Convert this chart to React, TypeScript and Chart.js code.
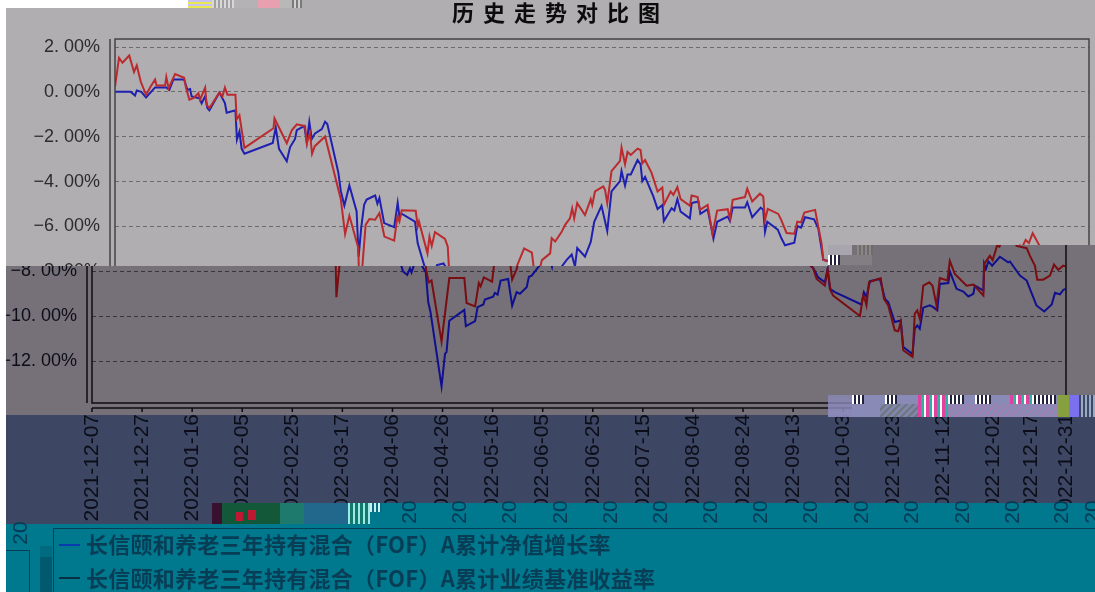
import React, { useEffect, useRef } from "react";
import { Chart, registerables } from "chart.js";

Chart.register(...registerables);

const chartTitle = "历史走势对比图";
const netLabel = "长信颐和养老三年持有混合（FOF）A累计净值增长率";
const benchLabel = "长信颐和养老三年持有混合（FOF）A累计业绩基准收益率";

const tickDays = [0, 20, 40, 60, 80, 100, 120, 140, 160, 180, 200, 220, 240, 260, 280, 300, 320, 340, 360, 375, 389];
const tickLabels = [
  "2021-12-07", "2021-12-27", "2022-01-16", "2022-02-05", "2022-02-25", "2022-03-17", "2022-04-06",
  "2022-04-26", "2022-05-16", "2022-06-05", "2022-06-25", "2022-07-15", "2022-08-04", "2022-08-24",
  "2022-09-13", "2022-10-03", "2022-10-23", "2022-11-12", "2022-12-02", "2022-12-17", "2022-12-31",
];
const yTicks = [2, 0, -2, -4, -6, -8, -10, -12];

const netDays = [
  0, 6.3, 8, 8.7, 10.5, 12.4, 16, 20.6, 21.7, 23.3, 27.6, 28.9, 30, 30.6, 33.7, 34.6, 36, 36.9, 37.7, 41.7,
  43.9, 44.6, 48.1, 48.7, 49.7, 50.6, 51.7, 63, 64.2, 65.5, 68.6, 69.9, 71.9, 72.6, 75.6, 76.6, 77.6, 78.6, 79.9, 82.6,
  83.9, 84.8, 89.2, 90.2, 91.6, 93.6, 96.5, 97.3, 98.3, 99.5, 100.5, 103.9, 104.8, 105.6, 107.5, 111.5, 112.9, 113.6, 114.5, 119.8,
  120.9, 124.2, 125.9, 127, 127.6, 128.6, 131.2, 133.3, 134.3, 135.2, 139.6, 141, 141.6, 142.7, 148.7, 149.3, 153, 154, 156.3, 156.9,
  160.2, 160.9, 162, 163.2, 166.2, 167.8, 169.6, 170.9, 173.6, 174.5, 175.6, 178.4, 180.4, 182.4, 183.7, 184.6, 187.7, 190, 191.4, 194.3,
  196.6, 198.3, 201.7, 202.3, 203.7, 204.7, 206, 208.7, 209.9, 210.6, 211.7, 215, 216.7, 218.6, 219.2, 222.3, 223.4, 224.6, 225.9, 229.6,
  230.3, 233, 233.8, 236.7, 239, 240.5, 244.7, 245.6, 246.7, 251.6, 252.5, 254.5, 257.9, 258.9, 259.6, 260.5, 264.7, 266.2, 267.6, 271.3,
  272.5, 274, 275.6, 279.2, 280.9, 282.9, 285.2, 288, 290, 292.7, 293.8, 294.7, 296.7, 307.3, 308.3, 309.3, 310.7, 314.7, 316.7, 318,
  320.6, 323, 324, 327.7, 328.6, 329.6, 330.6, 332, 334.6, 336, 337.6, 338.6, 342, 342.6, 345.3, 348, 350, 352, 352.6, 356,
  356.3, 357, 358, 359.5, 362.6, 365.9, 366.6, 370.6, 373.3, 377.2, 380.3, 383.3, 384.6, 386.6, 387.9, 388.8,
];
const netValues = [
  0, 0, -0.16, 0.06, 0, -0.25, 0.2, 0.19, 0.09, 0.55, 0.55, 0.09, 0.13, -0.2, -0.28, -0.51, -0.2, -0.72, -0.82, -0.03,
  -0.5, -0.93, -0.82, -2.13, -1.77, -2.54, -2.76, -2.28, -1.59, -2.54, -3.09, -2.47, -2.1, -1.71, -1.52, -2.25, -1.34, -2.1, -1.85, -1.66,
  -1.33, -1.43, -3.6, -4.43, -5.07, -4.17, -5.33, -7.35, -6.1, -5.03, -4.8, -4.62, -4.98, -4.73, -5.85, -6.03, -4.95, -5.55, -5.43, -5.78,
  -6.75, -8.0, -8.16, -7.87, -8.05, -7.72, -7.65, -8.04, -9.38, -9.82, -13.13, -11.67, -11.6, -10.2, -9.72, -10.44, -10.22, -9.6, -9.48, -9.26,
  -9.13, -8.96, -9.04, -8.41, -8.34, -9.53, -8.93, -9, -8.71, -8.24, -8.19, -7.79, -7.49, -7.25, -7.79, -6.96, -7.34, -6.69, -5.79, -5.08,
  -6.2, -4.44, -3.98, -3.53, -4.18, -3.68, -3.68, -3.04, -3.23, -3.98, -3.79, -4.66, -5.22, -5.04, -5.76, -5.19, -5.29, -4.78, -5.34, -5.64,
  -4.96, -4.89, -5.44, -5.23, -6.54, -5.79, -5.56, -5.76, -5.16, -5.16, -4.92, -5.59, -5.16, -5.26, -6.24, -5.79, -6.14, -6.54, -6.84, -6.72,
  -5.98, -6.05, -5.59, -5.68, -6.09, -7.49, -7.55, -7.85, -8.27, -8.49, -7.9, -8.78, -8.93, -9.48, -8.93, -9.15, -8.44, -8.34, -9.23, -9.37,
  -10.26, -10.19, -11.37, -11.69, -10.56, -10.41, -10.56, -9.62, -9.52, -9.6, -9.74, -8.56, -8.52, -8, -8.78, -8.9, -9.12, -9, -8.64, -8.86,
  -7.67, -7.9, -7.56, -7.75, -7.35, -7.6, -7.56, -8.19, -8.41, -9.52, -9.79, -9.48, -8.96, -9.03, -8.83, -8.78,
];

const benchDays = [
  0, 1.6, 3, 5.7, 7.6, 8.7, 10.3, 12.4, 14.2, 16, 16.6, 20, 20.5, 21.4, 24, 27.6, 28.4, 29.7, 31.3, 33.3,
  34, 36, 36.6, 37.7, 41.7, 42.9, 43.9, 44.9, 48.1, 48.6, 49.7, 51.7, 63.3, 63.7, 68.6, 70.6, 72.6, 75.9, 76.6, 77.9,
  78.7, 79.8, 83.9, 90.2, 91.9, 93.6, 97.2, 97.6, 98.8, 100.1, 101.6, 103.9, 105.6, 107.6, 111.5, 112.8, 113.6, 114.5, 120.1, 120.9,
  121.4, 124.8, 125.6, 126.5, 127.8, 131.8, 132.9, 133.4, 134.5, 135.6, 139.6, 141.2, 142.7, 148.7, 149.6, 153, 154.5, 155.2, 156.5, 159.8,
  160.5, 163.4, 166.5, 167.8, 169.6, 170.5, 173.8, 174.4, 175.8, 178.4, 179.7, 181.7, 182.6, 183.4, 184.6, 187.7, 190, 190.6, 191.7, 195,
  195.7, 196.6, 198.3, 201.7, 202.3, 203.7, 204.7, 206, 208.7, 209.9, 210.6, 211.7, 214.3, 216.7, 218.6, 219.2, 221.9, 223, 224.6, 225.9,
  229.6, 230.3, 232.7, 233.6, 236.7, 238.6, 240.5, 244.7, 245.6, 246.7, 251.6, 252.5, 254.5, 257.6, 258.9, 259.6, 260.7, 264.9, 266.2, 268.2,
  271.3, 272.5, 274, 275.3, 279.6, 282.2, 282.9, 285.2, 288, 289.4, 292.7, 293.8, 295, 296, 306.7, 308, 308.7, 309.3, 310.3, 314,
  315, 316.3, 318, 320.6, 322, 323, 324, 327.7, 328.6, 329.6, 330.6, 332, 334.4, 335.7, 337.3, 338.6, 341.6, 342.6, 344.6, 349.3,
  352, 356, 356.3, 358.6, 359.7, 361.5, 362.4, 363.7, 365, 366.5, 369.3, 373.3, 374.6, 376.6, 377.5, 379.9, 382.6, 384.2, 385.9, 387.9, 388.8,
];
const benchValues = [
  0.23, 1.52, 1.3, 1.62, 0.89, 1.18, 0.45, -0.13, 0.23, 0.55, 0.28, 0.28, 0.66, 0.16, 0.79, 0.63, 0.16, -0.35, -0.28, -0.06,
  -0.35, 0.19, -0.57, -0.72, -0.03, -0.2, 0.19, -0.13, -0.13, -1.23, -1.04, -2.5, -1.62, -1.18, -2.29, -1.71, -1.45, -1.53, -2.29, -1.85,
  -2.76, -2.42, -1.99, -4.8, -6.34, -5.52, -6.97, -9.15, -7.77, -5.93, -5.67, -5.7, -5.4, -6.45, -6.63, -5.55, -5.78, -5.28, -5.3, -6,
  -5.78, -7.2, -6.45, -6.87, -6.25, -6.55, -6.9, -7.9, -8.49, -8.41, -11.13, -9.67, -8.3, -8.3, -9.41, -9.56, -8.52, -8.67, -8.27, -8.46,
  -7.77, -6.98, -7.17, -8.37, -7.9, -7.5, -7.2, -6.52, -6.67, -6.24, -5.94, -5.64, -5.19, -5.64, -4.96, -5.49, -4.78, -5.04, -4.44, -4.21,
  -4.36, -4.96, -3.53, -3.08, -2.48, -3.23, -2.68, -2.81, -2.53, -2.59, -3.19, -3.04, -3.61, -4.44, -4.26, -5.04, -4.44, -4.59, -4.24, -4.78,
  -5.08, -4.62, -4.69, -5.26, -5.04, -6.32, -5.29, -5.23, -5.64, -4.81, -4.69, -4.32, -4.89, -4.54, -4.66, -5.71, -5.22, -5.44, -5.74, -6.29,
  -6.32, -5.79, -5.82, -5.38, -5.26, -6.77, -7.49, -7.55, -7.85, -8.34, -8.64, -7.9, -8.86, -9.08, -9.99, -9.08, -9.27, -9.52, -8.49, -8.34,
  -8.31, -9.23, -9.52, -10.63, -10.67, -10.26, -11.52, -11.81, -9.89, -9.74, -10.11, -8.64, -8.49, -8.64, -9.52, -8.3, -8.41, -7.53, -8.12, -8.64,
  -8.59, -9.08, -7.67, -7.31, -7.5, -6.85, -6.9, -6.6, -6.74, -6.3, -6.87, -6.97, -7.31, -7.75, -8.37, -8.37, -8.19, -7.7, -7.93, -7.75, -7.78,
];

// Stray fragments of the date labels in the teal strip (page x of each "20")
const strayLabelX = [409, 459, 509, 560, 610, 660, 710, 760, 810, 861, 911, 962, 1012, 1061, 1092];

const W = 1095;
const H = 592;
const SHIFT = -23;

type Theme = {
  red: string;
  blue: string;
  grid: string;
  frame: string;
  text: string;
  withTitle: boolean;
};

function Layer({ theme, dx, clip }: { theme: Theme; dx: number; clip: string }) {
  const ref = useRef<HTMLCanvasElement | null>(null);
  useEffect(() => {
    if (!ref.current) return;
    const framePlugin = {
      id: "frame",
      afterDatasetsDraw(chart: any) {
        const { ctx, chartArea: a, scales } = chart;
        ctx.save();
        ctx.strokeStyle = theme.frame;
        ctx.lineWidth = 1.5;
        ctx.strokeRect(a.left, a.top, a.right - a.left, a.bottom - a.top);
        ctx.beginPath();
        ctx.moveTo(a.left - 5, a.top);
        ctx.lineTo(a.left - 5, a.bottom);
        ctx.moveTo(a.left, a.bottom + 5);
        ctx.lineTo(a.right, a.bottom + 5);
        for (const d of tickDays) {
          const px = scales.x.getPixelForValue(d);
          ctx.moveTo(px, a.bottom + 5);
          ctx.lineTo(px, a.bottom + 9);
        }
        ctx.stroke();
        if (theme.withTitle) {
          ctx.fillStyle = "#0c0c0c";
          ctx.font = "bold 22px 'Noto Sans CJK SC'";
          ctx.textAlign = "left";
          ctx.textBaseline = "middle";
          (ctx as any).letterSpacing = "9px";
          ctx.fillText(chartTitle, 452, 13);
          (ctx as any).letterSpacing = "0px";
        }
        ctx.restore();
      },
    };
    const chart = new Chart(ref.current, {
      type: "line",
      data: {
        datasets: [
          {
            label: benchLabel,
            data: benchDays.map((d, i) => ({ x: d, y: benchValues[i] })),
            borderColor: theme.red,
            borderWidth: 2,
            pointRadius: 0,
            tension: 0,
          },
          {
            label: netLabel,
            data: netDays.map((d, i) => ({ x: d, y: netValues[i] })),
            borderColor: theme.blue,
            borderWidth: 2,
            pointRadius: 0,
            tension: 0,
          },
        ],
      },
      options: {
        responsive: false,
        animation: false,
        devicePixelRatio: 1,
        layout: { padding: { top: 39, right: 6, left: 0, bottom: 0 } },
        plugins: { legend: { display: false }, tooltip: { enabled: false }, title: { display: false } },
        scales: {
          x: {
            type: "linear",
            min: 0,
            max: 389,
            afterBuildTicks: (s: any) => {
              s.ticks = tickDays.map((v) => ({ value: v }));
            },
            afterFit: (s: any) => {
              s.height = H - 403;
              s.paddingLeft = 0;
              s.paddingRight = 0;
            },
            ticks: {
              autoSkip: false,
              minRotation: 90,
              maxRotation: 90,
              padding: 3,
              color: theme.text,
              font: { family: "'Liberation Sans'", size: 21 },
              callback: (v: any) => tickLabels[tickDays.indexOf(Number(v))],
            },
            grid: { display: false },
            border: { display: false },
          },
          y: {
            min: -13.87,
            max: 2.357,
            afterBuildTicks: (s: any) => {
              s.ticks = yTicks.map((v) => ({ value: v }));
            },
            afterFit: (s: any) => {
              s.width = 115;
              s.paddingTop = 0;
              s.paddingBottom = 0;
            },
            ticks: {
              padding: 15,
              color: theme.text,
              font: { family: "'Liberation Sans'", size: 18 },
              callback: (v: any) => Number(v).toFixed(2).replace(".", ". ").replace("-", "\u2212") + "%",
            },
            grid: { color: theme.grid, drawTicks: false, lineWidth: 1, tickLength: 0 },
            border: { display: false, dash: [4, 3] },
          },
        },
      },
      plugins: [framePlugin],
    } as any);
    return () => chart.destroy();
  }, []);
  return (
    <div style={{ position: "absolute", left: 0, top: 0, width: W, height: H, overflow: "hidden", clipPath: clip }}>
      <canvas ref={ref} width={W} height={H} style={{ position: "absolute", left: dx, top: 0, display: "block" }} />
    </div>
  );
}

const box = (x: number, y: number, w: number, h: number, background: string): React.CSSProperties => ({
  position: "absolute",
  left: x,
  top: y,
  width: w,
  height: h,
  background,
});

const GRAY = "#b0aeb0";
const DARK = "#767078";
const NAVY = "#3d4663";
const TEAL = "#00788e";
const INK = "#083d56";

const upperTheme: Theme = { red: "#bb2a2e", blue: "#1f1fb0", grid: "#6c6c6c", frame: "#444444", text: "#2c2c2c", withTitle: true };
const lowerTheme: Theme = { red: "#7a0d12", blue: "#0f0f90", grid: "#38363c", frame: "#0c0c10", text: "#0b0d18", withTitle: false };

const upperClip = "polygon(6px 8px,300px 8px,300px 0,1095px 0,1095px 245px,828px 245px,828px 266px,6px 266px)";
const lowerClip = "polygon(828px 245px,1095px 245px,1095px 503px,212px 503px,212px 524px,6px 524px,6px 266px,828px 266px)";

const noiseA = "repeating-linear-gradient(90deg,#ffffff 0 2px,#20203a 2px 4px)";

const strayStyle = (left: number, top: number): React.CSSProperties => ({
  position: "absolute",
  left,
  top,
  width: 40,
  height: 20,
  textAlign: "center",
  transform: "rotate(-90deg)",
  font: "21px/20px 'Liberation Sans'",
  color: "#063a55",
});

export default function App() {
  return (
    <div style={{ position: "absolute", left: 0, top: 0, width: W, height: H, background: "#fff", overflow: "hidden" }}>
      <div style={box(6, 8, 1089, 258, GRAY)} />
      <div style={box(300, 0, 795, 8, GRAY)} />
      <div style={box(6, 266, 1089, 149, DARK)} />
      <div style={box(828, 245, 267, 21, DARK)} />
      <div style={box(6, 415, 1089, 109, NAVY)} />
      <div style={box(212, 503, 883, 89, TEAL)} />
      <div style={box(6, 524, 206, 68, TEAL)} />

      <Layer theme={upperTheme} dx={0} clip={upperClip} />
      <Layer theme={lowerTheme} dx={SHIFT} clip={lowerClip} />

      {/* top strip damage */}
      <div style={box(188, 0, 24, 8, "repeating-linear-gradient(0deg,#e8e850 0 2px,#c8c0f0 2px 4px)")} />
      <div style={box(212, 0, 22, 8, "repeating-linear-gradient(90deg,#d8d8d8 0 2px,#a0a0a0 2px 4px)")} />
      <div style={box(234, 0, 24, 8, "#b4b2b4")} />
      <div style={box(258, 0, 22, 8, "#e8a0b0")} />
      <div style={box(280, 0, 12, 8, "#b8b8b8")} />
      <div style={box(292, 0, 10, 8, "repeating-linear-gradient(90deg,#7a7a7a 0 2px,#d0d0d0 2px 4px)")} />

      {/* mid-right damage */}
      <div style={box(828, 245, 24, 10, "#a9a5ae")} />
      <div style={box(857, 245, 16, 10, "repeating-linear-gradient(90deg,#8a8880 0 2px,#6f6a72 2px 4px)")} />
      <div style={box(828, 255, 12, 10, noiseA)} />
      <div style={box(840, 255, 32, 10, "#827e84")} />

      {/* lower-right damage */}
      <div style={box(828, 395, 24, 22, "linear-gradient(#8e8cc0aa,#8e8cc0ee)")} />
      <div style={box(852, 395, 243, 22, "#8a8ab6")} />
      <div style={box(852, 395, 12, 9, noiseA)} />
      <div style={box(885, 395, 12, 9, noiseA)} />
      <div style={box(918, 395, 30, 22, "repeating-linear-gradient(90deg,#e040a0 0 3px,#30b0a0 3px 6px,#ffffff 6px 8px)")} />
      <div style={box(948, 395, 16, 9, noiseA)} />
      <div style={box(975, 395, 16, 9, noiseA)} />
      <div style={box(1010, 395, 22, 9, "repeating-linear-gradient(90deg,#e040a0 0 3px,#30b0a0 3px 6px,#ffffff 6px 8px)")} />
      <div style={box(1032, 395, 24, 9, noiseA)} />
      <div style={box(1057, 395, 12, 22, "#86a040")} />
      <div style={box(1069, 395, 10, 22, "#7a70f0")} />
      <div style={box(1079, 395, 16, 22, "repeating-linear-gradient(90deg,#3a4a6a 0 2px,#a0a8c0 2px 4px)")} />
      <div style={box(880, 404, 38, 13, "repeating-linear-gradient(135deg,#8484aa 0 3px,#6a7a80 3px 5px)")} />
      <div style={box(948, 404, 109, 13, "repeating-linear-gradient(135deg,#8a8ab6 0 3px,#a080b0 3px 5px)")} />

      {/* lower-left damage */}
      <div style={box(212, 503, 10, 21, "#3a1030")} />
      <div style={box(222, 503, 58, 21, "#14583a")} />
      <div style={box(236, 512, 7, 9, "#c01830")} />
      <div style={box(248, 510, 8, 10, "#c01830")} />
      <div style={box(280, 503, 24, 21, "#1f7a6e")} />
      <div style={box(304, 503, 44, 21, "#21688c")} />
      <div style={box(348, 503, 22, 21, "repeating-linear-gradient(90deg,#9fe8e8 0 2px,#127a6a 2px 5px)")} />
      <div style={box(370, 503, 12, 9, "repeating-linear-gradient(90deg,#c8f0f0 0 2px,#0a6a80 2px 4px)")} />

      {/* stray label pieces */}
      {strayLabelX.map((x, i) => (
        <div key={i} style={strayStyle(x - 20, 502)}>
          20
        </div>
      ))}
      <div style={strayStyle(0, 523)}>20</div>

      {/* bottom-left fragments */}
      <div style={{ ...box(6, 550, 24, 42, "transparent"), borderTop: "1.5px solid " + INK, borderRight: "1.5px solid " + INK, boxSizing: "border-box" }} />
      <div style={box(40, 546, 12, 11, "#006a80")} />
      <div style={box(40, 557, 12, 35, "#00596e")} />

      {/* legend */}
      <div style={{ ...box(53, 528, 1042, 64, "transparent"), borderTop: "1.5px solid " + INK, borderLeft: "1.5px solid " + INK, boxSizing: "border-box" }} />
      <div style={box(59, 544, 21, 2, "#0a3ab0")} />
      <div style={box(59, 577, 21, 2, "#0b3044")} />
      {[
        { text: netLabel, top: 528 },
        { text: benchLabel, top: 562 },
      ].map((t) => (
        <div
          key={t.top}
          style={{
            position: "absolute",
            left: 86,
            top: t.top,
            height: 30,
            whiteSpace: "nowrap",
            font: "bold 22px/30px 'Noto Sans CJK SC'",
            letterSpacing: "0.25px",
            color: INK,
          }}
        >
          {t.text}
        </div>
      ))}
    </div>
  );
}
